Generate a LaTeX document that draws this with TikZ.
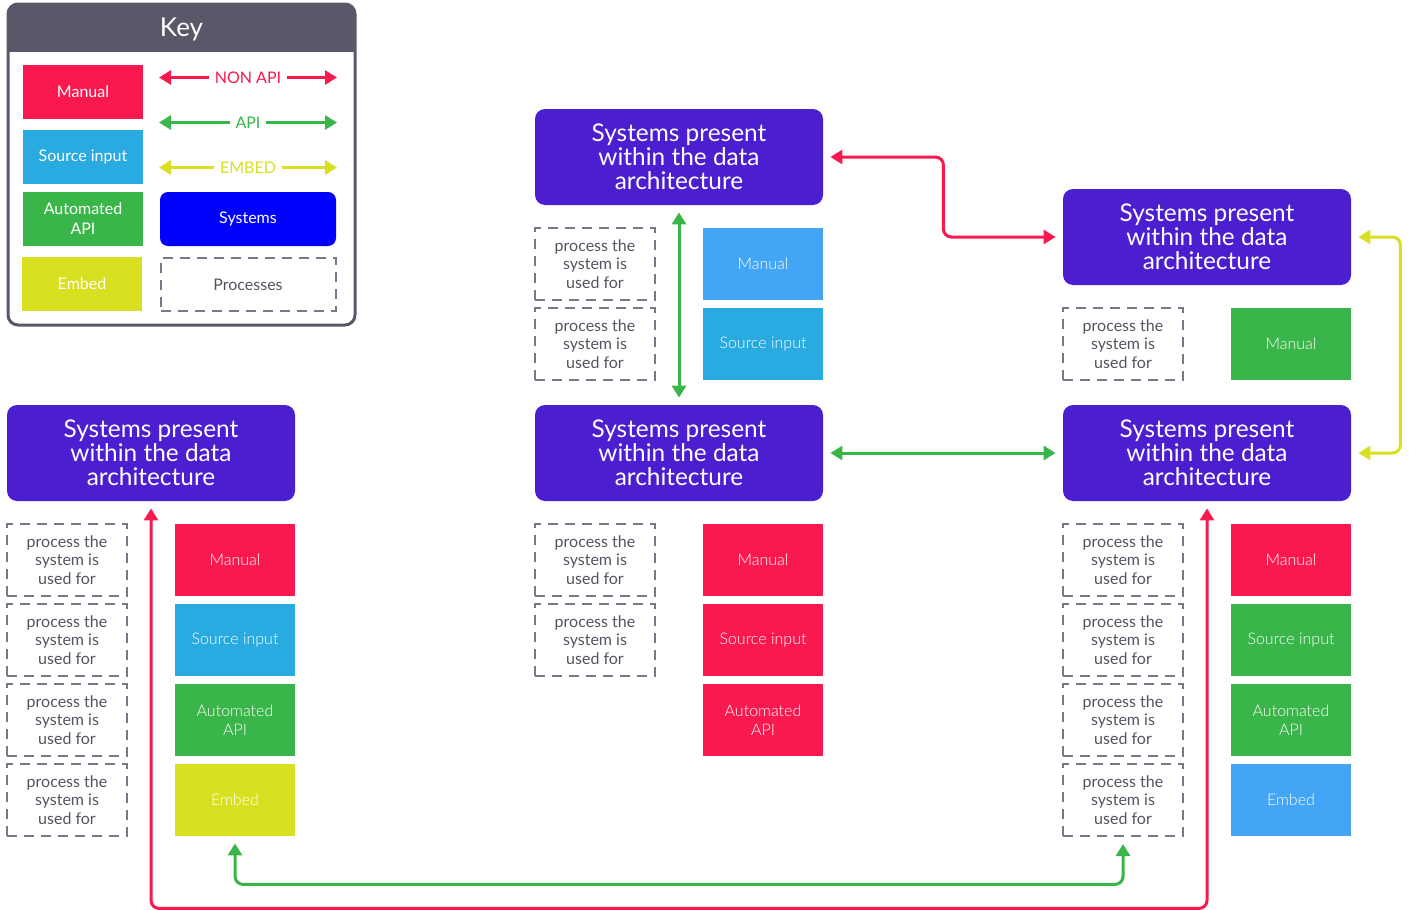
\documentclass[tikz,border=0pt]{standalone}
\usepackage{fontspec}
\setmainfont{Lato}
\newfontfamily\lightfont{Lato Light}
\usetikzlibrary{arrows.meta}

\definecolor{cred}{HTML}{FA194E}
\definecolor{cblue}{HTML}{29AAE1}
\definecolor{clblue}{HTML}{42A5F5}
\definecolor{cgreen}{HTML}{39B54A}
\definecolor{cyellow}{HTML}{D9E021}
\definecolor{cpurple}{HTML}{4B1ED0}
\definecolor{cpure}{HTML}{0000FF}
\definecolor{keygray}{HTML}{5A5769}
\definecolor{dashgray}{HTML}{7A7788}
\definecolor{textgray}{HTML}{55525F}

\begin{document}
\begin{tikzpicture}[x=0.5pt,y=-0.5pt,
  sysbox/.style={fill=cpurple, rounded corners=5pt, minimum width=144pt, minimum height=48pt,
    text=white, align=center, inner sep=0pt, font=\fontsize{12.2}{12}\selectfont},
  procbox/.style={draw=dashgray, dash pattern=on 5pt off 3.5pt, line width=1pt,
    minimum width=60pt, minimum height=36pt, align=center, inner sep=0pt,
    text=textgray, font=\fontsize{8}{9.25}\selectfont},
  tag/.style={minimum width=60pt, minimum height=36pt, align=center, inner sep=0pt,
    text=white, font=\lightfont\fontsize{8}{9.25}\selectfont},
  keytag/.style={minimum width=60pt, minimum height=27pt, align=center, inner sep=0pt,
    text=white, font=\fontsize{8}{10}\selectfont},
  link/.style={line width=1.5pt, rounded corners=4pt,
    {Triangle[length=6pt,width=7pt]}-{Triangle[length=6pt,width=7pt]},
    shorten <=3.5pt, shorten >=3.5pt},
  nonapi/.style={link, draw=cred},
  api/.style={link, draw=cgreen},
  embed/.style={link, draw=cyellow},
  keylink/.style={line width=1.5pt,
    {Triangle[length=6pt,width=7pt]}-{Triangle[length=6pt,width=7pt]}},
  keylabel/.style={fill=white, inner xsep=3pt, font=\fontsize{8}{10}\selectfont}
]
\useasboundingbox (0,0) rectangle (1410,910);

% ---- key panel ----
\begin{scope}
  \clip[rounded corners=5pt] (8,4) rectangle (355,325);
  \fill[keygray] (8,4) rectangle (355,52);
\end{scope}
\draw[keygray, line width=1.5pt, rounded corners=5pt] (8,4) rectangle (355,325);
\node[text=white, font=\fontsize{13}{13}\selectfont] (keytitle) at (181.5,29.5) {Key};

\begin{scope}[every node/.append style={yshift=-0.5pt}]
\node[keytag, fill=cred] (kmanual) at (83,91) {Manual};
\node[keytag, fill=cblue] (ksource) at (83,156) {Source input};
\node[keytag, fill=cgreen] (kauto) at (83,218) {Automated\\API};
\node[keytag, fill=cyellow] (kembed) at (82,283) {Embed};
\node[keytag, fill=cpure, minimum width=88pt, rounded corners=4pt] (ksys) at (248,218) {Systems};
\node[procbox, minimum width=87.5pt, minimum height=26.5pt, font=\fontsize{8}{10}\selectfont] (kproc) at (248,283.5) {Processes};
\end{scope}

\coordinate (kna) at (159,77.5);  \coordinate (knb) at (337,77.5);
\coordinate (kaa) at (159,122.5); \coordinate (kab) at (337,122.5);
\coordinate (kea) at (159,167.5); \coordinate (keb) at (337,167.5);
\draw[keylink, draw=cred] (kna) -- (knb) node[keylabel, text=cred, midway] {NON API};
\draw[keylink, draw=cgreen] (kaa) -- (kab) node[keylabel, text=cgreen, midway] {API};
\draw[keylink, draw=cyellow] (kea) -- (keb) node[keylabel, text=cyellow, midway] {EMBED};

% ---- systems ----
\node[sysbox] (s1) at (679,157) {Systems present\\within the data\\architecture};
\node[sysbox] (s2) at (1207,237) {Systems present\\within the data\\architecture};
\node[sysbox] (s3) at (151,453) {Systems present\\within the data\\architecture};
\node[sysbox] (s4) at (679,453) {Systems present\\within the data\\architecture};
\node[sysbox] (s5) at (1207,453) {Systems present\\within the data\\architecture};

% ---- system 1 ----
\node[procbox] (p1a) at (595,264) {process the\\system is\\used for};
\node[procbox] (p1b) at (595,344) {process the\\system is\\used for};
\node[tag, fill=clblue] (t1a) at (763,264) {Manual};
\node[tag, fill=cblue] (t1b) at (763,344) {Source input};

% ---- system 2 ----
\node[procbox] (p2a) at (1123,344) {process the\\system is\\used for};
\node[tag, fill=cgreen] (t2a) at (1291,344) {Manual};

% ---- system 3 ----
\node[procbox] (p3a) at (67,560) {process the\\system is\\used for};
\node[procbox] (p3b) at (67,640) {process the\\system is\\used for};
\node[procbox] (p3c) at (67,720) {process the\\system is\\used for};
\node[procbox] (p3d) at (67,800) {process the\\system is\\used for};
\node[tag, fill=cred] (t3a) at (235,560) {Manual};
\node[tag, fill=cblue] (t3b) at (235,640) {Source input};
\node[tag, fill=cgreen] (t3c) at (235,720) {Automated\\API};
\node[tag, fill=cyellow] (t3d) at (235,800) {Embed};

% ---- system 4 ----
\node[procbox] (p4a) at (595,560) {process the\\system is\\used for};
\node[procbox] (p4b) at (595,640) {process the\\system is\\used for};
\node[tag, fill=cred] (t4a) at (763,560) {Manual};
\node[tag, fill=cred] (t4b) at (763,640) {Source input};
\node[tag, fill=cred] (t4c) at (763,720) {Automated\\API};

% ---- system 5 ----
\node[procbox] (p5a) at (1123,560) {process the\\system is\\used for};
\node[procbox] (p5b) at (1123,640) {process the\\system is\\used for};
\node[procbox] (p5c) at (1123,720) {process the\\system is\\used for};
\node[procbox] (p5d) at (1123,800) {process the\\system is\\used for};
\node[tag, fill=cred] (t5a) at (1291,560) {Manual};
\node[tag, fill=cgreen] (t5b) at (1291,640) {Source input};
\node[tag, fill=cgreen] (t5c) at (1291,720) {Automated\\API};
\node[tag, fill=clblue] (t5d) at (1291,800) {Embed};

% ---- connectors ----
\draw[nonapi] (s1.east) -- ++(120,0) |- (s2.west);
\draw[api] (s1.south) -- (s4.north);
\draw[api] (s4.east) -- (s5.west);
\draw[embed] (s2.east) -- ++(49,0) |- (s5.east);
\draw[nonapi] (s3.south) -- ++(0,407) -| (s5.south);
\draw[api] (t3d.south) -- ++(0,48) -| (p5d.south);
\end{tikzpicture}
\end{document}
